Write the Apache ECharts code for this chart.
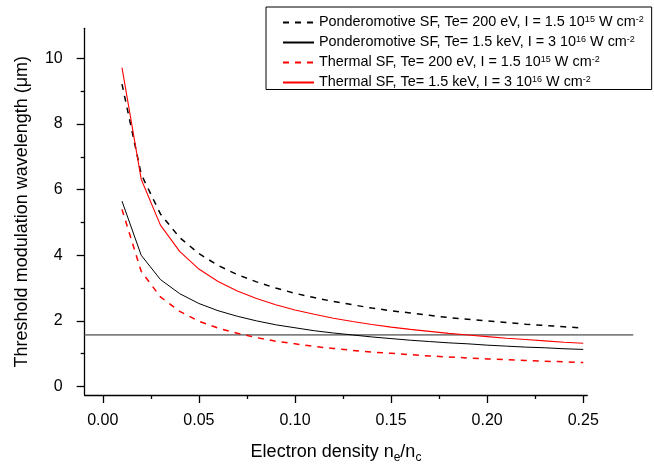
<!DOCTYPE html>
<html>
<head>
<meta charset="utf-8">
<script src="https://cdn.jsdelivr.net/npm/echarts@6/dist/echarts.min.js"></script>
<style>
html,body{margin:0;padding:0;background:#fff;}
#chart{width:654px;height:469px;}
</style>
</head>
<body>
<div id="chart"></div>
<script>
// Electron density n_e/n_c
const xValues = [0.01,0.02,0.03,0.04,0.05,0.06,0.07,0.08,0.09,0.10,0.11,0.12,0.13,0.14,0.15,0.16,0.17,0.18,0.19,0.20,0.21,0.22,0.23,0.24,0.25];
// Threshold modulation wavelength (um)
const ponderomotive200eV = [9.22,6.47,5.26,4.54,4.05,3.69,3.41,3.19,3.00,2.84,2.71,2.59,2.49,2.39,2.31,2.24,2.17,2.10,2.05,2.00,1.95,1.90,1.86,1.82,1.78];
const ponderomotive1500eV = [5.65,4.00,3.26,2.83,2.53,2.31,2.14,2.00,1.88,1.79,1.70,1.63,1.57,1.51,1.46,1.41,1.37,1.33,1.30,1.26,1.23,1.20,1.18,1.15,1.13];
const thermal200eV = [5.40,3.51,2.73,2.29,1.99,1.78,1.62,1.49,1.38,1.30,1.22,1.16,1.10,1.05,1.01,0.97,0.93,0.90,0.87,0.84,0.82,0.79,0.77,0.75,0.73];
const thermal1500eV = [9.72,6.32,4.92,4.12,3.58,3.20,2.91,2.68,2.49,2.33,2.20,2.08,1.98,1.89,1.81,1.74,1.68,1.62,1.57,1.52,1.47,1.43,1.39,1.35,1.32];
const thresholdLevel = 1.6;
const thresholdX = [-0.0094, 0.276];

const seriesNames = ['Ponderomotive SF, Te= 200 eV','Ponderomotive SF, Te= 1.5 keV','Thermal SF, Te= 200 eV','Thermal SF, Te= 1.5 keV'];
const intensityMantissa = ['1.5','3','1.5','3'];
const intensityExponent = ['15','16','15','16'];

const xTickValues = [0.00,0.05,0.10,0.15,0.20,0.25];
const xMinorTicks = [0.025,0.075,0.125,0.175,0.225];
const yTickValues = [0,2,4,6,8,10];
const yMinorTicks = [1,3,5,7,9];

const FONT = 'Liberation Sans, Arial, sans-serif';
const pair = arr => xValues.map((x,i)=>[x,arr[i]]);

const chart = echarts.init(document.getElementById('chart'), null, {renderer:'canvas'});
const xMin = -0.0094, xMax = 0.2521, yMin = -0.26, yMax = 10.92;
const xMaxWide = 0.276;

const baseX = {type:'value', min:xMin, max:xMax, splitLine:{show:false}, gridIndex:0};
const baseY = {type:'value', min:yMin, max:yMax, splitLine:{show:false}, gridIndex:0};
const hidden = {axisLine:{show:false}, axisTick:{show:false}, axisLabel:{show:false}, splitLine:{show:false}};

chart.setOption({
  animation:false,
  backgroundColor:'#fff',
  grid:[
    {left:84.7, right:66.7, top:28.3, bottom:73},
    {left:84.7, right:20.7, top:28.3, bottom:73}
  ],
  legend:{
    left:266, top:7, orient:'vertical',
    itemWidth:31, itemHeight:14, itemGap:5.5,
    padding:[8,8,0,16],
    borderColor:'#000', borderWidth:1,
    itemStyle:{opacity:0},
    data:seriesNames,
    formatter:function(name){
      const i = seriesNames.indexOf(name);
      return '{t|'+name+', I = '+intensityMantissa[i]+' 10}{s|'+intensityExponent[i]+'}{t| W cm}{s|-2}';
    },
    textStyle:{fontFamily:FONT, fontSize:14.4, color:'#000',
      rich:{t:{fontFamily:FONT,fontSize:14.4,lineHeight:15,color:'#000'},
            s:{fontFamily:FONT,fontSize:9,lineHeight:8,verticalAlign:'top',color:'#000'}}}
  },
  xAxis:[
    Object.assign({}, baseX, {
      position:'bottom',
      name:'{m|Electron density n}{b|e}{m|/n}{b|c}',
      nameLocation:'middle', nameGap:45,
      nameTextStyle:{fontFamily:FONT,fontSize:18,color:'#000',
        rich:{m:{fontFamily:FONT,fontSize:18,lineHeight:24,color:'#000'},
              b:{fontFamily:FONT,fontSize:12,lineHeight:8,verticalAlign:'bottom',color:'#000'}}},
      axisLine:{show:true,onZero:false,lineStyle:{color:'#000',width:1.3}},
      axisTick:{show:true,inside:false,length:8,customValues:xTickValues,lineStyle:{color:'#000',width:1.3}},
      axisLabel:{show:true,margin:18,customValues:xTickValues,fontFamily:FONT,fontSize:16,color:'#000',
        formatter:v=>v.toFixed(2)}
    }),
    Object.assign({}, baseX, {
      position:'bottom',
      axisLine:{show:false,onZero:false},
      axisTick:{show:true,inside:false,length:4,customValues:xMinorTicks,lineStyle:{color:'#000',width:1.3}},
      axisLabel:{show:false}
    }),
    Object.assign({type:'value', min:xMin, max:xMaxWide, gridIndex:1}, hidden)
  ],
  yAxis:[
    Object.assign({}, baseY, {
      position:'left',
      name:'Threshold modulation wavelength (μm)',
      nameLocation:'middle', nameGap:54, nameRotate:90,
      nameTextStyle:{fontFamily:FONT,fontSize:18,color:'#000'},
      axisLine:{show:true,onZero:false,lineStyle:{color:'#000',width:1.3}},
      axisTick:{show:true,inside:false,length:8,customValues:yTickValues,lineStyle:{color:'#000',width:1.3}},
      axisLabel:{show:true,margin:22,customValues:yTickValues,fontFamily:FONT,fontSize:16,color:'#000',
        formatter:v=>String(v)}
    }),
    Object.assign({}, baseY, {
      position:'left',
      axisLine:{show:false,onZero:false},
      axisTick:{show:true,inside:false,length:4,customValues:yMinorTicks,lineStyle:{color:'#000',width:1.3}},
      axisLabel:{show:false}
    }),
    Object.assign({type:'value', min:yMin, max:yMax, gridIndex:1}, hidden)
  ],
  series:[
    {name:'threshold', type:'line', xAxisIndex:2, yAxisIndex:2, data:thresholdX.map(x=>[x,thresholdLevel]),
      symbol:'none', showSymbol:false, lineStyle:{color:'#808080',width:1.7}, itemStyle:{color:'#808080'}, silent:true, z:1},
    {name:seriesNames[0], type:'line', data:pair(ponderomotive200eV), symbol:'none', showSymbol:false,
      lineStyle:{color:'#000',width:1.5,type:[6,6]}, itemStyle:{color:'#000'}, z:2},
    {name:seriesNames[1], type:'line', data:pair(ponderomotive1500eV), symbol:'none', showSymbol:false,
      lineStyle:{color:'#000',width:1}, itemStyle:{color:'#000'}, z:2},
    {name:seriesNames[2], type:'line', data:pair(thermal200eV), symbol:'none', showSymbol:false,
      lineStyle:{color:'#ff0000',width:1.5,type:[6,6]}, itemStyle:{color:'#ff0000'}, z:2},
    {name:seriesNames[3], type:'line', data:pair(thermal1500eV), symbol:'none', showSymbol:false,
      lineStyle:{color:'#ff0000',width:1.1}, itemStyle:{color:'#ff0000'}, z:2}
  ]
});
</script>
</body>
</html>
